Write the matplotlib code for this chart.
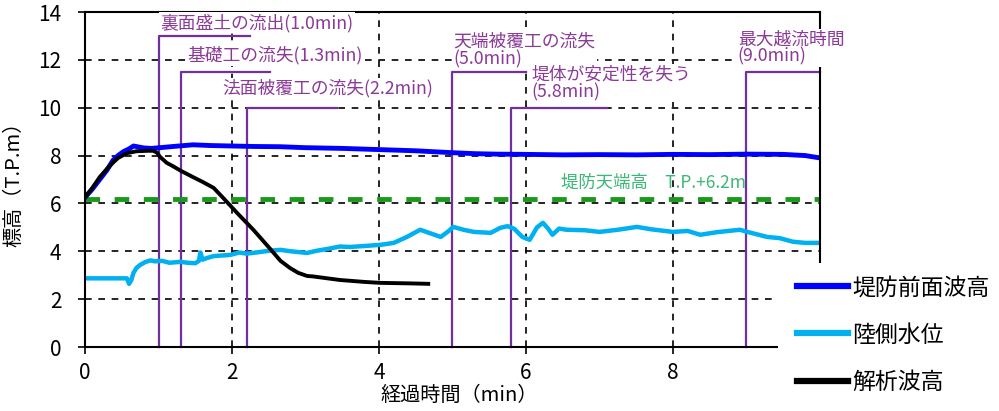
import matplotlib
matplotlib.use("Agg")
import matplotlib.pyplot as plt
from matplotlib.lines import Line2D
from matplotlib.patches import Rectangle

plt.rcParams['font.family'] = ['Noto Sans CJK JP', 'DejaVu Sans']

# 堤防前面波高
t_front = [0, 0.1, 0.2, 0.3, 0.38, 0.45, 0.52, 0.6, 0.66, 0.71, 0.8, 0.9, 1.02, 1.2, 1.47, 1.7,
           2.0, 2.3, 2.66, 3.0, 3.5, 4.0, 4.5, 5.0, 5.3, 5.6, 6.0, 6.5, 7.0, 7.5, 8.0, 8.5,
           9.0, 9.5, 9.8, 10.0]
h_front = [6.25, 6.6, 7.0, 7.4, 7.8, 8.0, 8.16, 8.28, 8.4, 8.37, 8.32, 8.3, 8.33, 8.38, 8.45, 8.42,
           8.4, 8.38, 8.37, 8.33, 8.3, 8.25, 8.2, 8.12, 8.08, 8.06, 8.05, 8.03, 8.04, 8.03, 8.05, 8.04,
           8.06, 8.05, 8.0, 7.9]

# 陸側水位
t_land = [0, 0.57, 0.6, 0.63, 0.66, 0.7, 0.75, 0.82, 0.89, 0.95,
          1.05, 1.15, 1.3, 1.4, 1.5, 1.55, 1.57, 1.6, 1.66, 1.75,
          1.85, 1.98, 2.1, 2.2, 2.38, 2.5, 2.66, 2.8, 3.02, 3.15,
          3.3, 3.47, 3.6, 3.8, 4.02, 4.2, 4.38, 4.56, 4.7, 4.84,
          4.95, 5.01, 5.15, 5.29, 5.52, 5.65, 5.75, 5.84, 5.95, 6.05,
          6.15, 6.23, 6.3, 6.36, 6.45, 6.55, 6.8, 7.0, 7.25, 7.51,
          7.7, 8.0, 8.2, 8.37, 8.6, 8.91, 9.0, 9.28, 9.45, 9.63,
          9.8, 10.0]
h_land = [2.87, 2.87, 2.64, 2.8, 3.1, 3.3, 3.43, 3.55, 3.62, 3.58,
          3.6, 3.52, 3.56, 3.52, 3.5, 3.6, 3.95, 3.65, 3.72, 3.8,
          3.82, 3.85, 3.95, 3.9, 3.97, 4.02, 4.06, 4.0, 3.93, 4.02,
          4.1, 4.2, 4.18, 4.22, 4.27, 4.35, 4.6, 4.9, 4.75, 4.6,
          4.85, 5.02, 4.9, 4.81, 4.77, 4.98, 5.05, 4.94, 4.6, 4.48,
          5.0, 5.19, 4.95, 4.69, 4.95, 4.9, 4.88, 4.81, 4.9, 5.02,
          4.92, 4.81, 4.85, 4.69, 4.8, 4.9, 4.82, 4.6, 4.55, 4.4,
          4.35, 4.35]

# 解析波高
t_calc = [0, 0.1, 0.2, 0.3, 0.38, 0.45, 0.57, 0.7, 0.85, 0.93, 0.98, 1.02, 1.11, 1.2, 1.3, 1.47,
          1.6, 1.75, 1.88, 2.07, 2.29, 2.52, 2.66, 2.79, 2.9, 3.02, 3.1, 3.47, 3.8, 4.02, 4.4, 4.67]
h_calc = [6.25, 6.65, 7.1, 7.45, 7.7, 7.9, 8.1, 8.18, 8.2, 8.2, 8.12, 7.95, 7.7, 7.55, 7.37, 7.1,
          6.9, 6.65, 6.23, 5.6, 4.9, 4.1, 3.6, 3.3, 3.1, 2.97, 2.95, 2.8, 2.72, 2.68, 2.66, 2.64]

crest = 6.2  # 堤防天端高

# イベント
event_t = [1.0, 1.3, 2.2, 5.0, 5.8, 9.0]
event_labels = ["裏面盛土の流出(1.0min)", "基礎工の流失(1.3min)", "法面被覆工の流失(2.2min)",
                "天端被覆工の流失\n(5.0min)", "堤体が安定性を失う\n(5.8min)", "最大越流時間\n(9.0min)"]

# 注記の配置 (レイアウト)
bracket_top = [13.0, 11.5, 10.0, 11.5, 10.0, 11.5]
bracket_end = [2.25, 2.52, 3.43, 6.0, 7.1, 10.0]
label_x = [1.02, 1.39, 1.87, 5.01, 6.07, 8.88]
label_y = [13.55, 12.2, 10.8, 12.38, 11.02, 12.49]

fig = plt.figure(figsize=(9.99, 4.11), dpi=100)
ax = fig.add_axes([85 / 999, 1 - 347 / 411, 735 / 999, 335 / 411])

ax.set_xlim(0, 10)
ax.set_ylim(0, 14)
ax.set_xticks([0, 2, 4, 6, 8])
ax.set_yticks(range(0, 15, 2))
ax.grid(True, color='black', linestyle=(0, (4, 4)), linewidth=1.2)
ax.set_axisbelow(True)
for s in ax.spines.values():
    s.set_linewidth(1.5)
ax.tick_params(direction='out', length=5, width=1.2, labelsize=15)
ax.tick_params(axis='y', pad=12)
ax.tick_params(axis='x', pad=6)

purple = '#7030a0'
for t, top, end in zip(event_t, bracket_top, bracket_end):
    ax.plot([t, t, end], [0, top, top], color=purple, lw=1.6, zorder=2, clip_on=False)

ax.axhline(crest, color='#1a9a1a', lw=3.5, linestyle=(0, (3, 3)), zorder=2.2)
ax.plot(t_land, h_land, color='#00b0f0', lw=3.2, zorder=2.3)
ax.plot(t_front, h_front, color='#0000ff', lw=3.5, zorder=2.4)
ax.plot(t_calc, h_calc, color='black', lw=2.8, zorder=2.5)

for txt, x, y in zip(event_labels, label_x, label_y):
    ax.text(x, y, txt, ha='left', va='center', fontsize=12.8, color='#8b3a98',
            linespacing=0.95, zorder=4, clip_on=False,
            bbox=dict(facecolor='white', edgecolor='none', pad=1.0))

ax.text(6.48, 6.86, "堤防天端高　T.P.+6.2m", ha='left', va='center', fontsize=12.5,
        color='#3cb878', zorder=4)

ax.set_xlabel("経過時間（min）", fontsize=14.5)
ax.xaxis.set_label_coords(0.509, -0.113)
ax.set_ylabel("標高（T.P.m）", fontsize=14.5)
ax.yaxis.set_label_coords(-0.082, 0.5)

# 凡例の白地
fig.add_artist(Rectangle((778 / 999, 0), 1, (411 - 263) / 411, transform=fig.transFigure,
                         facecolor='white', edgecolor='none', zorder=4))

handles = [Line2D([], [], color='#0000ff', lw=4.5),
           Line2D([], [], color='#00b0f0', lw=4.5),
           Line2D([], [], color='black', lw=4.5)]
leg = fig.legend(handles, ["堤防前面波高", "陸側水位", "解析波高"], loc='center left',
                 bbox_to_anchor=(786 / 999, 1 - 335 / 411), frameon=False, fontsize=16.5,
                 handlelength=2.2, handletextpad=0.2, labelspacing=1.05, borderpad=0)
leg.set_zorder(6)

fig.savefig("out.png", dpi=100)
